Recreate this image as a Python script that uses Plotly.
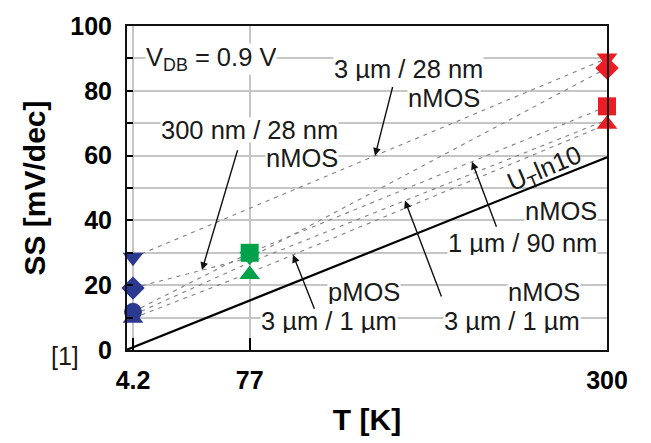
import numpy as np
import plotly.graph_objects as go

# ---------------- data ----------------
T_ticks = [4.2, 77, 300]
T_tick_text = ["4.2", "77", "300"]
SS_ticks = [0, 20, 40, 60, 80, 100]
SS_minor = [10, 30, 50, 70, 90]

# dashed guide lines between measured points (T in K, SS in mV/dec)
d1_T = [4.2, 300];       d1_SS = [28.6, 90.0]          # 3 um / 28 nm nMOS
d2_T = [4.2, 77, 300];   d2_SS = [19.1, 28.5, 87.0]    # 300 nm / 28 nm nMOS
d3_T = [4.2, 77, 300];   d3_SS = [11.8, 30.0, 75.2]    # 1 um / 90 nm nMOS
d4_T = [4.2, 77, 300];   d4_SS = [10.8, 27.0, 71.0]    # 3 um / 1 um nMOS
d5_T = [4.2, 77, 300];   d5_SS = [9.8, 23.8, 69.7]     # 3 um / 1 um pMOS

# thermal limit U_T ln10
ut_T = [0, 300]; ut_SS = [0, 59.5]

# markers
blue_T = [4.2, 4.2, 4.2, 4.2]
blue_SS = [28.6, 19.1, 9.8, 11.8]
blue_sym = ["triangle-down", "diamond", "triangle-up", "circle"]

green_T = [77, 77, 77]
green_SS = [23.3, 28.9, 30.0]
green_sym = ["triangle-up", "triangle-down", "square"]

red_T = [300, 300, 300, 300]
red_SS = [69.7, 75.2, 87.0, 90.1]
red_sym = ["triangle-up", "square", "diamond", "triangle-down"]

# ---------------- geometry helpers ----------------
W, H = 651, 443
L, R, TOP, B = 127, 44, 15, 85
PW, PH = W - L - R, H - TOP - B
x0 = 4.2 - 6 / 1.6025
XR = [x0, 300]
YR = [0, 100]

def px2T(px):
    return XR[0] + (px - L) / PW * (XR[1] - XR[0])

def py2SS(py):
    return (H - B - py) / PH * (YR[1] - YR[0])

def pxp(px):
    return (px - L) / PW

def pyp(py):
    return (H - B - py) / PH

FONT = "Liberation Sans, Arial, sans-serif"
fig = go.Figure()

dash_style = dict(color="#808080", width=1.1, dash="4px,5px")
for xs, ys in [(d1_T, d1_SS), (d2_T, d2_SS), (d3_T, d3_SS), (d4_T, d4_SS), (d5_T, d5_SS)]:
    fig.add_trace(go.Scatter(x=xs, y=ys, mode="lines", line=dash_style, hoverinfo="skip"))

fig.add_trace(go.Scatter(x=ut_T, y=ut_SS, mode="lines", line=dict(color="black", width=2.2)))

for xs, ys, sy, col in [(blue_T, blue_SS, blue_sym, "#2b3990"),
                        (green_T, green_SS, green_sym, "#00a14b"),
                        (red_T, red_SS, red_sym, "#ed1c24")]:
    fig.add_trace(go.Scatter(x=xs, y=ys, mode="markers", cliponaxis=False,
                             marker=dict(symbol=sy, size=18, color=col, opacity=1,
                                         line=dict(width=0))))

# ---------------- text labels ----------------
txt_font = dict(family=FONT, size=25.5, color="#1a1a1a")

def label(text, px, py, xanchor="center", angle=0, bg="white", h=24):
    fig.add_annotation(text=text, xref="paper", yref="paper", x=pxp(px), y=pyp(py),
                       xanchor=xanchor, yanchor="middle", showarrow=False, height=h,
                       font=txt_font, bgcolor=bg, borderpad=0, textangle=angle)

label("V<sub>DB</sub> = 0.9 V", 145, 50, "left", h=30)
label("3 µm / 28 nm", 484, 61, "right")
label("nMOS", 481, 91, "right")
label("300 nm / 28 nm", 339, 125, "right")
label("nMOS", 339, 155, "right")
label("U<sub>T</sub>ln10", 545, 167, "center", angle=-23, bg="rgba(0,0,0,0)", h=30)
label("nMOS", 598, 211, "right")
label("1 µm / 90 nm", 598, 245, "right")
label("pMOS", 401, 297, "right")
label("3 µm / 1 µm", 398, 327, "right")
label("nMOS", 581, 297, "right")
label("3 µm / 1 µm", 581, 327, "right")
fig.add_annotation(text="[1]", xref="paper", yref="paper", x=pxp(65), y=pyp(364),
                   xanchor="center", yanchor="middle", showarrow=False,
                   font=dict(family=FONT, size=25, color="#1a1a1a"))

# ---------------- arrows (tail in pixels, head on a guide line) ----------------
arrows = [((393, 78), 375, d1_T, d1_SS),
          ((238, 145), 202, d2_T, d2_SS),
          ((497, 229), 472, d3_T, d3_SS),
          ((442, 303), 405, d4_T, d4_SS),
          ((315, 316), 293, d5_T, d5_SS)]
for (tx, ty), hx, lx, ly in arrows:
    hT = px2T(hx)
    hS = float(np.interp(hT, lx, ly))
    fig.add_annotation(x=hT, y=hS, ax=px2T(tx), ay=py2SS(ty), xref="x", yref="y",
                       axref="x", ayref="y", text="", showarrow=True, arrowhead=2,
                       arrowsize=1.1, arrowwidth=1.4, arrowcolor="#111111",
                       standoff=0, startstandoff=0)

# ---------------- axes ----------------
grid_col = "#c6c6c6"
fig.update_xaxes(range=XR, tickvals=T_ticks, ticktext=T_tick_text,
                 ticks="inside", ticklen=12, tickwidth=2, tickcolor="black",
                 showgrid=True, gridcolor=grid_col, gridwidth=1.5, zeroline=False,
                 showline=True, linecolor="#111111", linewidth=2, mirror=True,
                 ticklabelstandoff=7,
                 tickfont=dict(family=FONT, size=25, color="black", weight="bold"),
                 title=dict(text="T [K]", standoff=16,
                            font=dict(family=FONT, size=30, color="black", weight="bold")))
fig.update_yaxes(range=YR, tickvals=SS_ticks, ticks="inside", ticklen=6, tickwidth=2,
                 tickcolor="black", showgrid=True, gridcolor=grid_col, gridwidth=1.5,
                 zeroline=False, showline=True, linecolor="#111111", linewidth=2, mirror=True,
                 minor=dict(tickvals=SS_minor, ticks="inside", ticklen=6, tickwidth=2,
                            tickcolor="black", showgrid=True, gridcolor=grid_col, gridwidth=1.5),
                 ticklabelstandoff=8,
                 tickfont=dict(family=FONT, size=25, color="black", weight="bold"),
                 title=dict(text="SS [mV/dec]", standoff=16,
                            font=dict(family=FONT, size=30, color="black", weight="bold")))

fig.update_layout(width=W, height=H, margin=dict(l=L, r=R, t=TOP, b=B),
                  plot_bgcolor="white", paper_bgcolor="white", showlegend=False)

fig.write_html("out.html")
